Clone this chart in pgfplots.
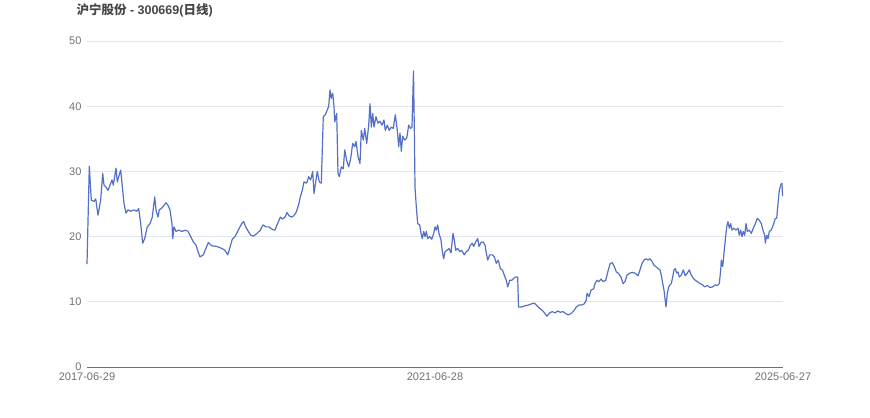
\documentclass[border=0pt]{standalone}
\usepackage{pgfplots}
\pgfplotsset{compat=1.18}
\usepackage{fontspec}
\setmainfont{Liberation Sans}
\newfontfamily\cjk{Noto Sans CJK SC}
\definecolor{linec}{HTML}{5470C6}
\definecolor{gridc}{HTML}{E0E6F1}
\definecolor{axisc}{HTML}{6E7079}
\definecolor{titlec}{HTML}{464646}
\begin{document}
\begin{tikzpicture}
\path (-87pt,-50pt) rectangle (783pt,367pt);
\begin{axis}[
  scale only axis, width=696pt, height=326pt,
  xmin=0, xmax=696, ymin=0, ymax=50,
  xtick={0,348,696}, xticklabels={2017-06-29,2021-06-28,2025-06-27},
  ytick={0,10,20,30,40,50},
  axis line style={draw=none},
  ymajorgrids, xmajorgrids=false,
  y grid style={gridc, line width=0.8pt},
  extra y ticks={0}, extra y tick labels={},
  extra y tick style={y grid style={axisc, line width=0.8pt}},
  tick style={draw=none},
  major tick length=0pt,
  tick label style={font=\fontsize{11}{13}\selectfont, text=axisc},
  /pgf/number format/assume math mode=true,
  xticklabel style={yshift=-2pt},
  yticklabel style={xshift=-2pt},
  clip=false,
]
\addplot[linec, line width=1.2pt, mark=none, line join=round] coordinates {
(0,15.8)(2.3,30.8)(4.3,25.6)(7,25.4)(8.7,25.8)(11,23.3)(13.7,25.6)(15.7,29.7)(17,27.9)(19,27.6)(21,27.1)(23,27.9)(25,28.7)(26.3,27.9)(27.7,29.2)(29,30.5)(30.3,28.4)(31.7,29.2)(33.7,30.2)(35.7,27.1)(37,25.1)(39,23.6)(41,24.1)(43.7,23.9)(47,24.1)(49.7,23.9)(51.7,24.3)(53.7,22.0)(55.7,19.0)(57.7,19.7)(60.3,21.5)(63,22.0)(65.3,23.0)(67.7,26.1)(69,24.1)(71,23.0)(72.3,24.1)(74.3,24.3)(77,24.8)(79,25.2)(81,24.8)(83,24.1)(85,22.0)(85.7,19.7)(87,21.5)(89,20.8)(91.7,21.0)(95,20.8)(98.3,21.0)(101,20.8)(103.7,20.0)(106.3,19.2)(109,18.7)(111,17.7)(113,16.9)(116.3,17.2)(121.3,19.1)(124.7,18.6)(129.7,18.5)(134.7,18.2)(138,17.9)(140.7,17.2)(142.7,18.2)(145.3,19.6)(148,20.0)(151.3,21.0)(154.7,22.0)(156.7,22.3)(158.7,21.5)(161.3,20.8)(164,20.2)(166.7,20.1)(170,20.5)(173.3,21.0)(176,21.8)(178.7,21.5)(182,21.5)(185.3,21.1)(188,21.0)(190,21.8)(192,22.5)(193.3,23.0)(195.3,22.7)(198,23.0)(200,23.7)(202,23.2)(204.7,23.0)(206.7,23.2)(208.7,23.6)(210,24.1)(212,25.1)(213.3,26.1)(215.3,27.1)(217,28.4)(219.7,28.2)(221.7,29.2)(223.7,28.7)(225.7,30.0)(227,26.6)(229,28.7)(230.3,30.0)(232.3,28.4)(234.3,28.2)(236.3,38.4)(238.3,38.7)(239.7,39.2)(241.7,40.0)(243,42.5)(244.3,41.2)(245.7,42.0)(247,40.0)(247.7,37.6)(249.7,38.9)(251,29.7)(252.3,29.2)(254.3,30.7)(256.3,30.4)(257.7,33.3)(259.7,31.7)(261.7,30.7)(263.7,32.0)(265.7,34.3)(267.7,33.8)(269,34.6)(271,32.3)(273,31.2)(274.3,36.3)(276.3,34.8)(277.7,36.6)(279.7,34.3)(281.7,37.1)(283,40.4)(284.3,36.8)(285.7,38.9)(287,36.8)(289,38.4)(291,37.4)(293,37.7)(295,37.1)(297,37.9)(298.3,36.3)(300.3,37.1)(302.3,36.3)(304.3,36.8)(306.3,36.6)(308.3,38.7)(310.3,36.3)(311.7,33.8)(313,35.9)(314.3,33.1)(315.7,35.4)(317.7,34.8)(319.7,35.1)(321.7,37.1)(323.7,36.6)(325,36.8)(326.5,45.4)(327.3,36.8)(328,27.6)(329.3,24.6)(330.7,22.0)(332.7,21.8)(334,20.5)(335.3,19.7)(336.7,20.8)(338,20.0)(339.3,20.8)(340.7,19.7)(342.7,20.0)(344.7,19.6)(346.7,20.5)(348,21.5)(349.3,21.0)(350.7,21.8)(352,20.5)(354,19.5)(355.3,17.7)(356.7,16.6)(358,17.7)(360,17.9)(362,18.2)(364,17.5)(366,20.5)(367.3,19.5)(368.7,17.9)(370.7,18.2)(372.7,17.7)(374.7,17.9)(377.3,17.2)(379.3,17.7)(381.3,17.9)(383.3,18.7)(385.3,19.0)(386.7,18.5)(388.7,19.2)(390.7,19.7)(392,18.5)(394,19.1)(396,19.2)(398,18.7)(399.3,17.5)(400.7,16.4)(402.7,17.2)(405.3,17.2)(407.3,16.9)(409.3,15.9)(411.3,16.4)(413.3,15.1)(415.3,14.9)(417.3,14.1)(419.3,13.3)(420.7,12.3)(422.7,13.3)(424.7,13.3)(426.7,13.6)(428.7,13.8)(430.7,13.8)(431.5,9.2)(434.7,9.2)(438,9.4)(441.3,9.5)(444.7,9.7)(447.3,9.8)(450,9.4)(452.7,9.0)(455.3,8.7)(458,8.2)(460,7.8)(462.7,8.3)(465.3,8.5)(468,8.3)(470.7,8.6)(473.3,8.4)(476,8.5)(478.7,8.2)(481.3,8.0)(484,8.2)(486.7,8.6)(489.3,9.2)(492,9.5)(494.7,9.5)(497.3,9.7)(499.3,10.3)(500,11.3)(502,10.8)(504,11.8)(506.7,12.0)(508,12.8)(510,13.3)(512,13.1)(514,13.5)(516,13.1)(518.7,13.3)(521.3,14.9)(523.3,15.9)(525.3,16.0)(527.3,15.4)(529.3,14.6)(531.3,14.4)(534,13.8)(536,12.8)(538,13.1)(540,14.1)(542.7,14.4)(545.3,14.5)(548,14.4)(551,14.0)(553,14.9)(555,15.9)(557,16.4)(559,16.6)(561,16.4)(563,16.6)(565,16.2)(567,15.6)(569,15.4)(571,15.1)(573,14.9)(574.3,14.1)(575.7,12.8)(577,11.8)(578.3,10.1)(579,9.2)(580.3,11.3)(581.7,12.3)(583,12.6)(584.3,12.8)(585.7,13.8)(587,14.9)(588.3,15.1)(589.7,14.4)(591,14.6)(592.3,13.8)(594.3,14.1)(596.3,14.9)(598.3,14.0)(600.3,14.4)(602.3,14.9)(604.3,14.1)(606.3,13.6)(608.3,13.3)(610.3,13.1)(613,12.8)(615.7,12.6)(617.7,12.3)(620.3,12.5)(623,12.2)(625.7,12.3)(628.3,12.6)(630.3,12.5)(632.3,12.8)(633.7,14.9)(634.3,16.4)(635.7,15.4)(637,17.5)(638.3,19.5)(639.7,21.5)(641,22.3)(642.3,21.3)(643.7,22.0)(645,21.0)(647,21.3)(649,21.0)(651,21.3)(652.3,20.2)(653.7,21.0)(655,20.0)(656.3,20.8)(657.7,20.2)(659,22.0)(660.3,20.8)(662.3,21.0)(664.3,20.5)(666.3,21.3)(668.3,22.0)(670.3,22.8)(672.3,22.5)(674.3,22.0)(676.3,20.8)(677.7,20.2)(678.3,19.0)(679.7,20.2)(681,19.7)(682.3,20.8)(684.3,21.0)(686.3,21.8)(688.3,22.8)(689.7,22.8)(691,25.1)(692.3,27.1)(693.7,27.9)(695,28.2)(695.5,26.4)(696,26.3)
};
\end{axis}
\node[anchor=west, text=titlec, font=\bfseries\fontsize{12.5}{14}\selectfont] at (-14pt,357pt) {{\cjk\bfseries 沪宁股份} - 300669({\cjk\bfseries 日线})};
\end{tikzpicture}
\end{document}
